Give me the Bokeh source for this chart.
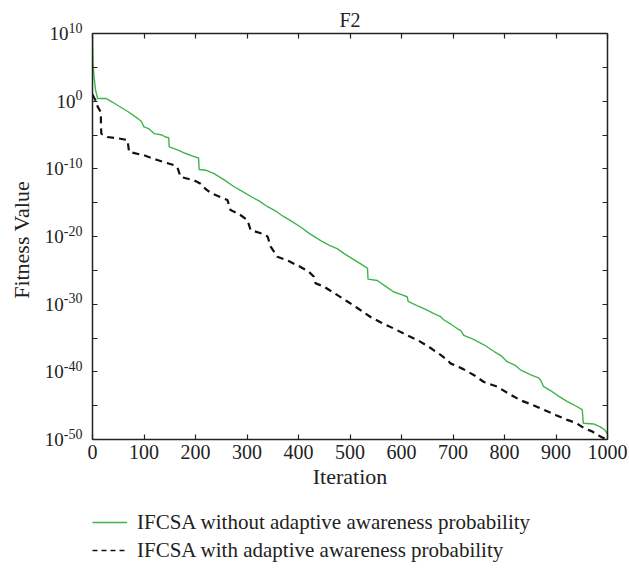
import math
from bokeh.plotting import figure
from bokeh.layouts import row, column
from bokeh.models import (LinearAxis, LogAxis, FixedTicker, Legend, LegendItem,
                          CustomJSTickFormatter, Range1d)
from bokeh.core.properties import value
from bokeh.embed import file_html
from bokeh.resources import INLINE

# ---- data (log10 of fitness values) ----
iter_without = [0, 1, 3, 6, 10, 26, 40, 55, 70, 87, 95, 100, 110, 120, 135, 142, 148, 149,
                165, 180, 197, 206, 207, 220, 236, 255, 275, 290, 310, 325, 340, 355, 370,
                390, 404, 420, 437, 443, 460, 475, 488, 505, 520, 534, 535, 553, 570, 585,
                600, 611, 613, 630, 648, 663, 675, 682, 695, 708, 715, 721, 740, 760, 780,
                793, 805, 820, 831, 850, 866, 870, 876, 890, 905, 922, 935, 951, 953, 973,
                985, 995, 1000]
log_without = [9.6, 5.5, 3.6, 1.6, 0.4, 0.4, -0.2, -0.9, -1.6, -2.5, -3.0, -3.8, -4.1, -4.8,
               -5.0, -5.3, -5.4, -6.75, -7.2, -7.7, -8.2, -8.4, -10.1, -10.2, -10.7, -11.6,
               -12.65, -13.3, -14.2, -14.8, -15.6, -16.2, -17.0, -17.9, -18.6, -19.5, -20.3,
               -20.6, -21.3, -21.8, -22.5, -23.3, -24.0, -24.7, -26.3, -26.5, -27.4, -28.2,
               -28.6, -28.9, -29.6, -30.2, -30.8, -31.4, -31.8, -32.3, -32.9, -33.6, -33.9,
               -34.6, -35.2, -36.0, -37.0, -37.6, -38.5, -39.0, -39.7, -40.4, -40.9, -41.2,
               -42.2, -42.8, -43.6, -44.4, -44.9, -45.6, -47.6, -47.7, -48.1, -48.6, -49.2]

iter_with = [0, 3, 8, 10, 16, 17, 29, 50, 68, 71, 100, 126, 158, 165, 171, 197, 210, 220,
             230, 262, 268, 285, 301, 307, 330, 340, 346, 359, 380, 404, 420, 430, 433, 449,
             470, 495, 515, 540, 560, 585, 611, 631, 655, 676, 690, 695, 720, 741, 760, 786,
             810, 831, 855, 876, 900, 922, 940, 954, 970, 980, 990, 1000]
log_with = [1.0, 0.5, -0.1, -0.8, -1.6, -4.8, -5.3, -5.5, -5.75, -7.5, -8.0, -8.7, -9.45,
            -9.8, -11.2, -11.7, -12.2, -13.0, -13.6, -14.6, -16.1, -16.7, -17.6, -19.05,
            -19.6, -20.0, -21.5, -23.0, -23.6, -24.5, -25.2, -25.95, -26.9, -27.4, -28.4,
            -29.6, -30.6, -31.9, -32.7, -33.6, -34.6, -35.3, -36.4, -37.5, -38.3, -38.75,
            -39.6, -40.5, -41.5, -42.2, -43.3, -44.2, -44.9, -45.6, -46.4, -47.1, -47.6,
            -48.3, -48.8, -49.3, -49.7, -50.0]

x_ticks = [0, 100, 200, 300, 400, 500, 600, 700, 800, 900, 1000]
y_tick_exps = [-50, -45, -40, -35, -30, -25, -20, -15, -10, -5, 0, 5, 10]
y_label_exps = [-50, -40, -30, -20, -10, 0, 10]
y_label_base = ["10", "10", "10", "10", "10", "10", "10"]
y_label_sup = ["-50", "-40", "-30", "-20", "-10", "0", "10"]

series_names = ["IFCSA without adaptive awareness probability",
                "IFCSA with adaptive awareness probability"]
series_colors = ["#3DB54A", "#111111"]
title_text = "F2"
x_title = "Iteration"
y_title = "Fitness Value"

FONT = "Liberation Serif"
AX = "#222222"
SUP_PX = 14
Y_MIN_EXP, Y_MAX_EXP = -50, 10

# ---- geometry ----
TOTAL_W, TOTAL_H = 629, 569
LEG_H = 69             # strip under the plot holding the legend
PLOT_H = TOTAL_H - LEG_H
LEFT_W = 87            # strip holding y tick labels and y title
FRAME_TOP = 33
FRAME_BOTTOM = PLOT_H - 439
FRAME_H = PLOT_H - FRAME_TOP - FRAME_BOTTOM
PAD = 20               # extra pixels of the label strip above/below the frame
pad_dec = PAD * (Y_MAX_EXP - Y_MIN_EXP) / FRAME_H

y_without = [10.0 ** v for v in log_without]
y_with = [10.0 ** v for v in log_with]
y_ticks = [10.0 ** e for e in y_tick_exps]

# ---- main plot ----
p = figure(width=TOTAL_W - LEFT_W, height=PLOT_H, y_axis_type="log",
           x_range=Range1d(0, 1000),
           y_range=Range1d(10.0 ** Y_MIN_EXP, 10.0 ** Y_MAX_EXP),
           output_backend="svg", toolbar_location=None,
           min_border_left=5, min_border_right=22, min_border_top=FRAME_TOP,
           min_border_bottom=FRAME_BOTTOM, title=title_text)
p.title.text_font = FONT
p.title.text_font_size = "20px"
p.title.text_font_style = "normal"
p.title.align = "center"
p.title.text_color = AX
p.title.standoff = 5
p.grid.visible = False
p.outline_line_color = None
p.background_fill_color = "white"
p.border_fill_color = "white"

def style_axis(ax):
    ax.axis_line_color = AX
    ax.axis_line_width = 1.5
    ax.major_tick_in = 5
    ax.major_tick_out = 0
    ax.major_tick_line_color = AX
    ax.major_tick_line_width = 1.2
    ax.minor_tick_line_color = None
    ax.major_label_text_font = FONT
    ax.major_label_text_font_size = "20px"
    ax.major_label_text_color = AX
    ax.axis_label_text_font = FONT
    ax.axis_label_text_font_size = "22px"
    ax.axis_label_text_font_style = "normal"
    ax.axis_label_text_color = AX

empty = CustomJSTickFormatter(code="return ''")

xax = p.xaxis[0]
xax.ticker = FixedTicker(ticks=x_ticks)
xax.axis_label = x_title
xax.axis_label_standoff = 2
xax.major_label_standoff = 5
style_axis(xax)

yax = p.yaxis[0]
yax.ticker = FixedTicker(ticks=y_ticks)
yax.formatter = empty
yax.major_label_standoff = 0
style_axis(yax)
yax.major_label_text_font_size = "1px"

top = LinearAxis(ticker=FixedTicker(ticks=x_ticks), formatter=empty)
style_axis(top)
top.major_label_standoff = 0
top.major_label_text_font_size = "1px"
p.add_layout(top, "above")
right = LogAxis(ticker=FixedTicker(ticks=y_ticks), formatter=empty)
style_axis(right)
right.major_label_standoff = 0
right.major_label_text_font_size = "1px"
p.add_layout(right, "right")

p.line(iter_without, y_without, line_color=series_colors[0], line_width=1.4)
p.line(iter_with, y_with, line_color=series_colors[1], line_width=2.2, line_dash="7 5")

# ---- left strip: y tick labels (10 with superscript) and y title ----
q = figure(width=LEFT_W, height=PLOT_H, y_axis_type="log",
           x_range=Range1d(0, LEFT_W),
           y_range=Range1d(10.0 ** (Y_MIN_EXP - pad_dec), 10.0 ** (Y_MAX_EXP + pad_dec)),
           x_axis_location=None, y_axis_location=None,
           output_backend="svg", toolbar_location=None,
           min_border_left=0, min_border_right=0,
           min_border_top=FRAME_TOP - PAD, min_border_bottom=FRAME_BOTTOM - PAD)
q.grid.visible = False
q.outline_line_color = None
q.background_fill_color = "white"
q.border_fill_color = "white"

LABEL_RIGHT = LEFT_W - 5   # 10 px left of the frame's left axis

def sup_width(s):
    return sum(0.333 if c == "-" else 0.5 for c in s) * SUP_PX

anchor_x = [LABEL_RIGHT - sup_width(s) for s in y_label_sup]
label_y = [10.0 ** e for e in y_label_exps]
q.text(x=anchor_x, y=label_y, text=y_label_base, text_align="right",
       text_baseline="middle", text_font=value(FONT), text_font_size="19px",
       text_color=AX)
q.text(x=anchor_x, y=label_y, text=y_label_sup, text_align="left",
       text_baseline="middle", y_offset=-6, text_font=value(FONT),
       text_font_size=f"{SUP_PX}px", text_color=AX)
q.text(x=[21], y=[10.0 ** -20.5], text=[y_title], angle=math.pi / 2,
       text_align="center", text_baseline="middle", text_font=value(FONT),
       text_font_size="22px", text_color=AX)

# ---- legend strip ----
lf = figure(width=TOTAL_W, height=LEG_H, x_range=Range1d(0, TOTAL_W),
            y_range=Range1d(0, LEG_H), x_axis_location=None, y_axis_location=None,
            output_backend="svg", toolbar_location=None,
            min_border_left=0, min_border_right=0, min_border_top=0,
            min_border_bottom=0)
lf.grid.visible = False
lf.outline_line_color = None
lf.background_fill_color = "white"
lf.border_fill_color = "white"
# legend keys: sample lines kept outside the visible range of this strip
k1 = lf.line([-60, -50], [-60, -60], line_color=series_colors[0], line_width=1.4)
k2 = lf.line([-60, -50], [-60, -60], line_color=series_colors[1], line_width=1.6,
             line_dash="5 4")
legend = Legend(items=[LegendItem(label=series_names[0], renderers=[k1]),
                       LegendItem(label=series_names[1], renderers=[k2])],
                location=(92, 5), orientation="vertical",
                padding=0, margin=0, spacing=0,
                glyph_width=35, glyph_height=28, label_height=28,
                label_standoff=10,
                label_text_font=FONT, label_text_font_size="21px",
                label_text_color=AX,
                border_line_alpha=0, background_fill_alpha=0)
lf.add_layout(legend, "center")

layout = column(row(column(q, spacing=0), p, spacing=0), lf, spacing=0)
open("out.html", "w").write(file_html(layout, INLINE))
